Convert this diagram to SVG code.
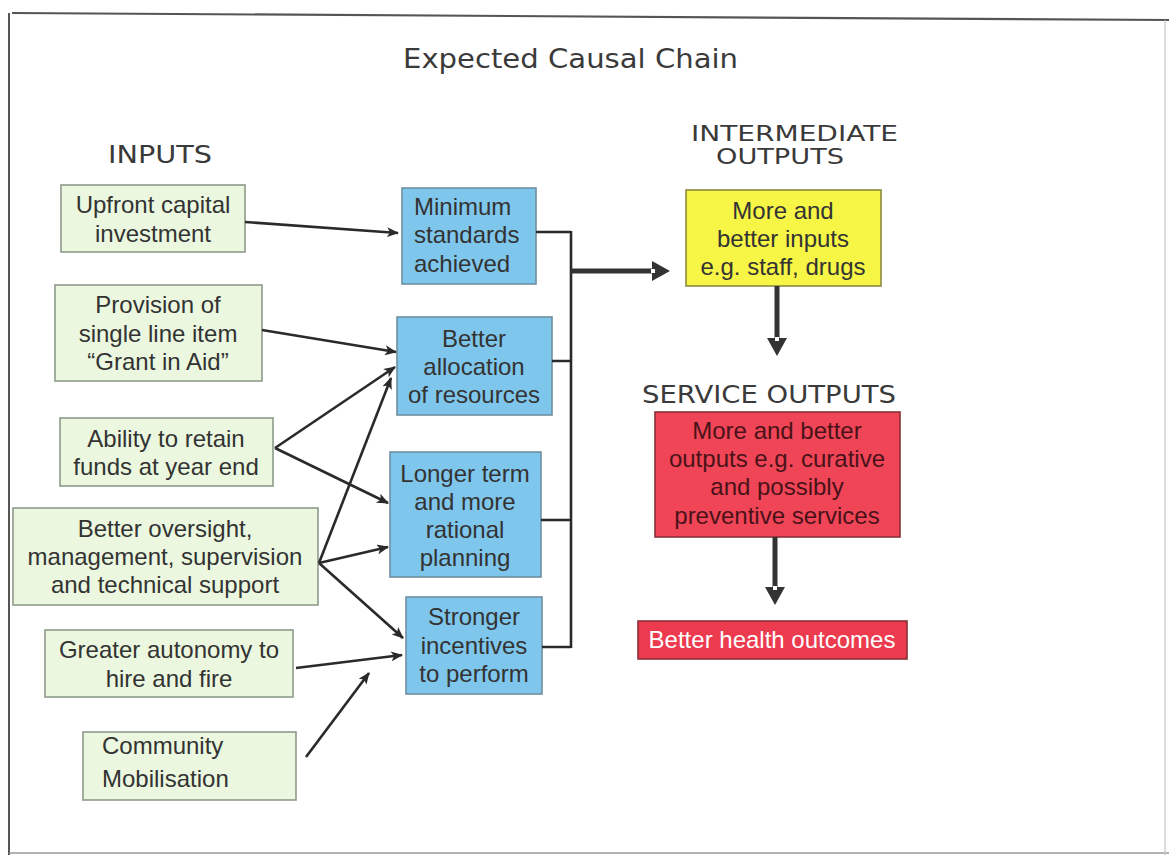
<svg xmlns="http://www.w3.org/2000/svg" width="1169" height="855" viewBox="0 0 1169 855">
  <style>
    .hdr { font-family: "DejaVu Sans", Verdana, sans-serif; fill: #3a3a3a; }
    .txt { font-family: "Liberation Sans", Arial, sans-serif; font-size: 24px; fill: #333; text-anchor: middle; }
    .left { text-anchor: start; }
    .in { fill: #ebf7df; stroke: #8e9a8a; stroke-width: 1.6; }
    .mid { fill: #7fc6ec; stroke: #6f8fa0; stroke-width: 1.6; }
    .inter { fill: #f7f545; stroke: #8c8a40; stroke-width: 1.6; }
    .svc { fill: #ef4557; stroke: #8a3038; stroke-width: 1.6; }
    .dark { fill: #4a1218; }
    .link { fill: none; stroke: #2a2a2a; stroke-width: 2.6; }
    .thick { fill: none; stroke: #333; stroke-width: 5; }
    .head { fill: #333; }
  </style>
  <defs>
    <marker id="arrow" viewBox="0 0 12 10" refX="11" refY="5" markerWidth="12" markerHeight="10" markerUnits="userSpaceOnUse" orient="auto">
      <path d="M0,0 L12,5 L0,10 L3,5 Z" fill="#2a2a2a"/>
    </marker>
  </defs>

  <rect width="1169" height="855" fill="#ffffff"/>

  <!-- page frame -->
  <g id="frame" fill="none">
    <path d="M12,13 L1169,20" stroke="#555" stroke-width="2.2"/>
    <path d="M9,13 V855" stroke="#555" stroke-width="2"/>
    <path d="M9,853 H1169" stroke="#999" stroke-width="1.5"/>
    <path d="M1165,20 V855" stroke="#c4c4c4" stroke-width="1.2"/>
  </g>

  <!-- headings -->
  <g id="headings">
    <text class="hdr" x="403" y="68" font-size="26" textLength="335" lengthAdjust="spacingAndGlyphs">Expected Causal Chain</text>
    <text class="hdr" x="108" y="163" font-size="24" textLength="104" lengthAdjust="spacingAndGlyphs">INPUTS</text>
    <text class="hdr" x="691" y="141" font-size="22" textLength="207" lengthAdjust="spacingAndGlyphs">INTERMEDIATE</text>
    <text class="hdr" x="716" y="164" font-size="22" textLength="128" lengthAdjust="spacingAndGlyphs">OUTPUTS</text>
    <text class="hdr" x="642" y="403" font-size="24" textLength="254" lengthAdjust="spacingAndGlyphs">SERVICE OUTPUTS</text>
  </g>

  <!-- input boxes -->
  <g id="in-capital">
    <rect class="in" x="61" y="185" width="184" height="67"/>
    <text class="txt" x="153" y="213">Upfront capital</text>
    <text class="txt" x="153" y="242">investment</text>
  </g>
  <g id="in-grant">
    <rect class="in" x="55" y="285" width="207" height="96"/>
    <text class="txt" x="158" y="313">Provision of</text>
    <text class="txt" x="158" y="342">single line item</text>
    <text class="txt" x="158" y="370">“Grant in Aid”</text>
  </g>
  <g id="in-retain">
    <rect class="in" x="60" y="418" width="213" height="68"/>
    <text class="txt" x="166" y="447">Ability to retain</text>
    <text class="txt" x="166" y="475">funds at year end</text>
  </g>
  <g id="in-oversight">
    <rect class="in" x="13" y="508" width="305" height="97"/>
    <text class="txt" x="165" y="537">Better oversight,</text>
    <text class="txt" x="165" y="565">management, supervision</text>
    <text class="txt" x="165" y="593">and technical support</text>
  </g>
  <g id="in-autonomy">
    <rect class="in" x="45" y="630" width="248" height="67"/>
    <text class="txt" x="169" y="658">Greater autonomy to</text>
    <text class="txt" x="169" y="687">hire and fire</text>
  </g>
  <g id="in-community">
    <rect class="in" x="83" y="732" width="213" height="68"/>
    <text class="txt left" x="102" y="754">Community</text>
    <text class="txt left" x="102" y="787">Mobilisation</text>
  </g>

  <!-- mechanism boxes -->
  <g id="mid-standards">
    <rect class="mid" x="402" y="188" width="134" height="96"/>
    <text class="txt left" x="414" y="215">Minimum</text>
    <text class="txt left" x="414" y="243">standards</text>
    <text class="txt left" x="414" y="272">achieved</text>
  </g>
  <g id="mid-allocation">
    <rect class="mid" x="397" y="317" width="155" height="98"/>
    <text class="txt" x="474" y="347">Better</text>
    <text class="txt" x="474" y="375">allocation</text>
    <text class="txt" x="474" y="403">of resources</text>
  </g>
  <g id="mid-planning">
    <rect class="mid" x="390" y="452" width="151" height="125"/>
    <text class="txt" x="465" y="482">Longer term</text>
    <text class="txt" x="465" y="510">and more</text>
    <text class="txt" x="465" y="538">rational</text>
    <text class="txt" x="465" y="566">planning</text>
  </g>
  <g id="mid-incentives">
    <rect class="mid" x="406" y="597" width="136" height="97"/>
    <text class="txt" x="474" y="625">Stronger</text>
    <text class="txt" x="474" y="654">incentives</text>
    <text class="txt" x="474" y="682">to perform</text>
  </g>

  <!-- outputs -->
  <g id="out-inputs">
    <rect class="inter" x="686" y="190" width="195" height="96"/>
    <text class="txt" x="783" y="219">More and</text>
    <text class="txt" x="783" y="247">better inputs</text>
    <text class="txt" x="783" y="275">e.g. staff, drugs</text>
  </g>
  <g id="out-services">
    <rect class="svc" x="655" y="412" width="245" height="125"/>
    <text class="txt dark" x="777" y="439">More and better</text>
    <text class="txt dark" x="777" y="467">outputs e.g. curative</text>
    <text class="txt dark" x="777" y="495">and possibly</text>
    <text class="txt dark" x="777" y="524">preventive services</text>
  </g>
  <g id="out-health">
    <rect class="svc" x="638" y="621" width="269" height="38" style="fill:#ec3a4e"/>
    <text class="txt" x="772" y="648" style="fill:#ffffff">Better health outcomes</text>
  </g>

  <!-- connectors -->
  <g id="connectors">
    <path class="link" d="M245,222 L398,233" marker-end="url(#arrow)"/>
    <path class="link" d="M262,330 L396,352" marker-end="url(#arrow)"/>
    <path class="link" d="M275,448 L395,367" marker-end="url(#arrow)"/>
    <path class="link" d="M275,448 L388,503" marker-end="url(#arrow)"/>
    <path class="link" d="M319,563 L391,378" marker-end="url(#arrow)"/>
    <path class="link" d="M319,563 L388,547" marker-end="url(#arrow)"/>
    <path class="link" d="M319,563 L403,638" marker-end="url(#arrow)"/>
    <path class="link" d="M296,668 L402,655" marker-end="url(#arrow)"/>
    <path class="link" d="M306,757 L369,673" marker-end="url(#arrow)"/>

    <!-- bracket joining the four mechanisms -->
    <path class="link" d="M536,232 H571 M552,361 H571 M541,520 H571 M542,647 H571 M571,231 V648"/>

    <!-- bold arrows -->
    <path class="thick" d="M571,271 H654"/>
    <polygon class="head" points="652,261 670,271 652,281"/>
    <rect x="651" y="269" width="4" height="4" fill="#fff"/>

    <path class="thick" d="M777,286 V340"/>
    <polygon class="head" points="767,338 777,356 787,338"/>
    <rect x="775" y="337" width="4" height="4" fill="#fff"/>

    <path class="thick" d="M775,537 V589"/>
    <polygon class="head" points="765,587 775,605 785,587"/>
    <rect x="773" y="586" width="4" height="4" fill="#fff"/>
  </g>
</svg>
